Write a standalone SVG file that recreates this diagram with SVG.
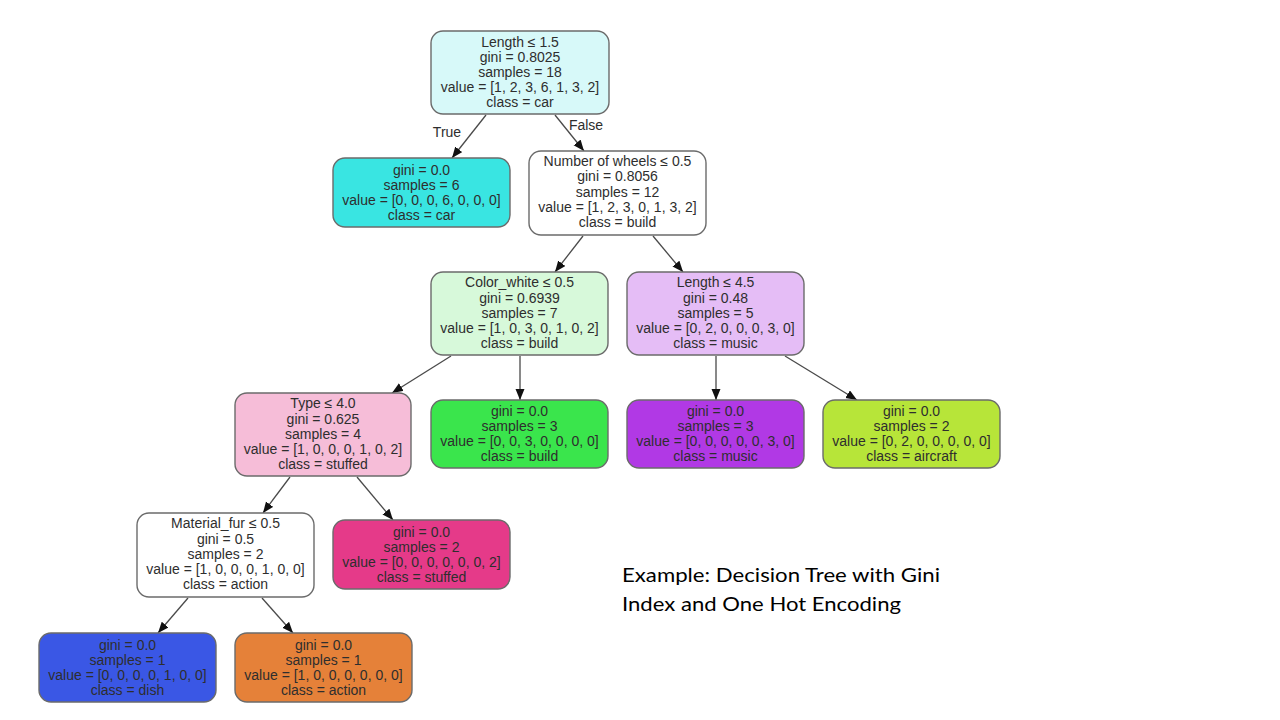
<svg xmlns="http://www.w3.org/2000/svg" width="1280" height="720" viewBox="0 0 1280 720">
<style>
  .box { stroke: #6b6b6b; stroke-width: 1.4; }
  .t { font-family: "Liberation Sans", Arial, sans-serif; font-size: 14px; fill: #2e2e2e; text-anchor: middle; }
  .edge { stroke: #4a4a4a; stroke-width: 1.3; fill: none; marker-end: url(#arr); }
  .lbl { font-family: "Liberation Sans", Arial, sans-serif; font-size: 14px; fill: #2e2e2e; text-anchor: middle; }
  .cap { font-family: Lato, "Open Sans", sans-serif; font-size: 20px; fill: #000; }
</style>
<defs>
  <marker id="arr" markerUnits="userSpaceOnUse" markerWidth="12" markerHeight="10" refX="11" refY="4.5" orient="auto">
    <path d="M0,0 L11,4.5 L0,9 Z" fill="#111"/>
  </marker>
</defs>
<rect width="1280" height="720" fill="#ffffff"/>

<g id="connectors">
  <line class="edge" x1="486" y1="115" x2="452" y2="158"/>
  <line class="edge" x1="555" y1="115" x2="584" y2="151"/>
  <line class="edge" x1="583" y1="236" x2="555" y2="272"/>
  <line class="edge" x1="653" y1="236" x2="683" y2="272"/>
  <line class="edge" x1="451" y1="356" x2="392" y2="393"/>
  <line class="edge" x1="520" y1="356" x2="520" y2="400"/>
  <line class="edge" x1="716" y1="356" x2="716" y2="400"/>
  <line class="edge" x1="785" y1="356" x2="857" y2="400"/>
  <line class="edge" x1="290" y1="477" x2="263" y2="513"/>
  <line class="edge" x1="357" y1="477" x2="393" y2="520"/>
  <line class="edge" x1="188" y1="598" x2="158" y2="633"/>
  <line class="edge" x1="262" y1="598" x2="293" y2="633"/>
  <text class="lbl" x="447" y="137">True</text>
  <text class="lbl" x="586" y="130">False</text>
</g>

<g id="n0">
  <rect class="box" x="431" y="31" width="178" height="83" rx="12" fill="#d7f9f9"/>
  <text class="t" x="520" y="47">Length ≤ 1.5</text>
  <text class="t" x="520" y="62">gini = 0.8025</text>
  <text class="t" x="520" y="77">samples = 18</text>
  <text class="t" x="520" y="92">value = [1, 2, 3, 6, 1, 3, 2]</text>
  <text class="t" x="520" y="107">class = car</text>
</g>

<g id="n1">
  <rect class="box" x="333" y="158" width="177" height="69" rx="12" fill="#39e5e2"/>
  <text class="t" x="421.5" y="175">gini = 0.0</text>
  <text class="t" x="421.5" y="190">samples = 6</text>
  <text class="t" x="421.5" y="205">value = [0, 0, 0, 6, 0, 0, 0]</text>
  <text class="t" x="421.5" y="220">class = car</text>
</g>

<g id="n2">
  <rect class="box" x="529" y="151" width="177" height="84" rx="12" fill="#ffffff"/>
  <text class="t" x="617.5" y="166">Number of wheels ≤ 0.5</text>
  <text class="t" x="617.5" y="181">gini = 0.8056</text>
  <text class="t" x="617.5" y="197">samples = 12</text>
  <text class="t" x="617.5" y="212">value = [1, 2, 3, 0, 1, 3, 2]</text>
  <text class="t" x="617.5" y="227">class = build</text>
</g>

<g id="n3">
  <rect class="box" x="431" y="272" width="177" height="83" rx="12" fill="#d7f9da"/>
  <text class="t" x="519.5" y="287">Color_white ≤ 0.5</text>
  <text class="t" x="519.5" y="303">gini = 0.6939</text>
  <text class="t" x="519.5" y="318">samples = 7</text>
  <text class="t" x="519.5" y="333">value = [1, 0, 3, 0, 1, 0, 2]</text>
  <text class="t" x="519.5" y="348">class = build</text>
</g>

<g id="n4">
  <rect class="box" x="627" y="272" width="177" height="83" rx="12" fill="#e5bdf6"/>
  <text class="t" x="715.5" y="287">Length ≤ 4.5</text>
  <text class="t" x="715.5" y="303">gini = 0.48</text>
  <text class="t" x="715.5" y="318">samples = 5</text>
  <text class="t" x="715.5" y="333">value = [0, 2, 0, 0, 0, 3, 0]</text>
  <text class="t" x="715.5" y="348">class = music</text>
</g>

<g id="n5">
  <rect class="box" x="235" y="393" width="176" height="83" rx="12" fill="#f6bdd8"/>
  <text class="t" x="323" y="408">Type ≤ 4.0</text>
  <text class="t" x="323" y="424">gini = 0.625</text>
  <text class="t" x="323" y="439">samples = 4</text>
  <text class="t" x="323" y="454">value = [1, 0, 0, 0, 1, 0, 2]</text>
  <text class="t" x="323" y="469">class = stuffed</text>
</g>

<g id="n6">
  <rect class="box" x="431" y="400" width="177" height="68" rx="12" fill="#3ae54c"/>
  <text class="t" x="519.5" y="416">gini = 0.0</text>
  <text class="t" x="519.5" y="431">samples = 3</text>
  <text class="t" x="519.5" y="446">value = [0, 0, 3, 0, 0, 0, 0]</text>
  <text class="t" x="519.5" y="461">class = build</text>
</g>

<g id="n7">
  <rect class="box" x="627" y="400" width="177" height="68" rx="12" fill="#b139e5"/>
  <text class="t" x="715.5" y="416">gini = 0.0</text>
  <text class="t" x="715.5" y="431">samples = 3</text>
  <text class="t" x="715.5" y="446">value = [0, 0, 0, 0, 0, 3, 0]</text>
  <text class="t" x="715.5" y="461">class = music</text>
</g>

<g id="n8">
  <rect class="box" x="823" y="400" width="177" height="68" rx="12" fill="#b7e539"/>
  <text class="t" x="911.5" y="416">gini = 0.0</text>
  <text class="t" x="911.5" y="431">samples = 2</text>
  <text class="t" x="911.5" y="446">value = [0, 2, 0, 0, 0, 0, 0]</text>
  <text class="t" x="911.5" y="461">class = aircraft</text>
</g>

<g id="n9">
  <rect class="box" x="137" y="513" width="177" height="84" rx="12" fill="#ffffff"/>
  <text class="t" x="225.5" y="528">Material_fur ≤ 0.5</text>
  <text class="t" x="225.5" y="544">gini = 0.5</text>
  <text class="t" x="225.5" y="559">samples = 2</text>
  <text class="t" x="225.5" y="574">value = [1, 0, 0, 0, 1, 0, 0]</text>
  <text class="t" x="225.5" y="589">class = action</text>
</g>

<g id="n10">
  <rect class="box" x="333" y="520" width="177" height="69" rx="12" fill="#e53a89"/>
  <text class="t" x="421.5" y="537">gini = 0.0</text>
  <text class="t" x="421.5" y="552">samples = 2</text>
  <text class="t" x="421.5" y="567">value = [0, 0, 0, 0, 0, 0, 2]</text>
  <text class="t" x="421.5" y="582">class = stuffed</text>
</g>

<g id="n11">
  <rect class="box" x="39" y="633" width="177" height="69" rx="12" fill="#3a57e5"/>
  <text class="t" x="127.5" y="650">gini = 0.0</text>
  <text class="t" x="127.5" y="665">samples = 1</text>
  <text class="t" x="127.5" y="680">value = [0, 0, 0, 0, 1, 0, 0]</text>
  <text class="t" x="127.5" y="695">class = dish</text>
</g>

<g id="n12">
  <rect class="box" x="235" y="633" width="177" height="69" rx="12" fill="#e58139"/>
  <text class="t" x="323.5" y="650">gini = 0.0</text>
  <text class="t" x="323.5" y="665">samples = 1</text>
  <text class="t" x="323.5" y="680">value = [1, 0, 0, 0, 0, 0, 0]</text>
  <text class="t" x="323.5" y="695">class = action</text>
</g>

<g id="caption">
  <text class="cap" x="622" y="582" textLength="318" lengthAdjust="spacingAndGlyphs">Example: Decision Tree with Gini</text>
  <text class="cap" x="622" y="611" textLength="279" lengthAdjust="spacingAndGlyphs">Index and One Hot Encoding</text>
</g>
</svg>
